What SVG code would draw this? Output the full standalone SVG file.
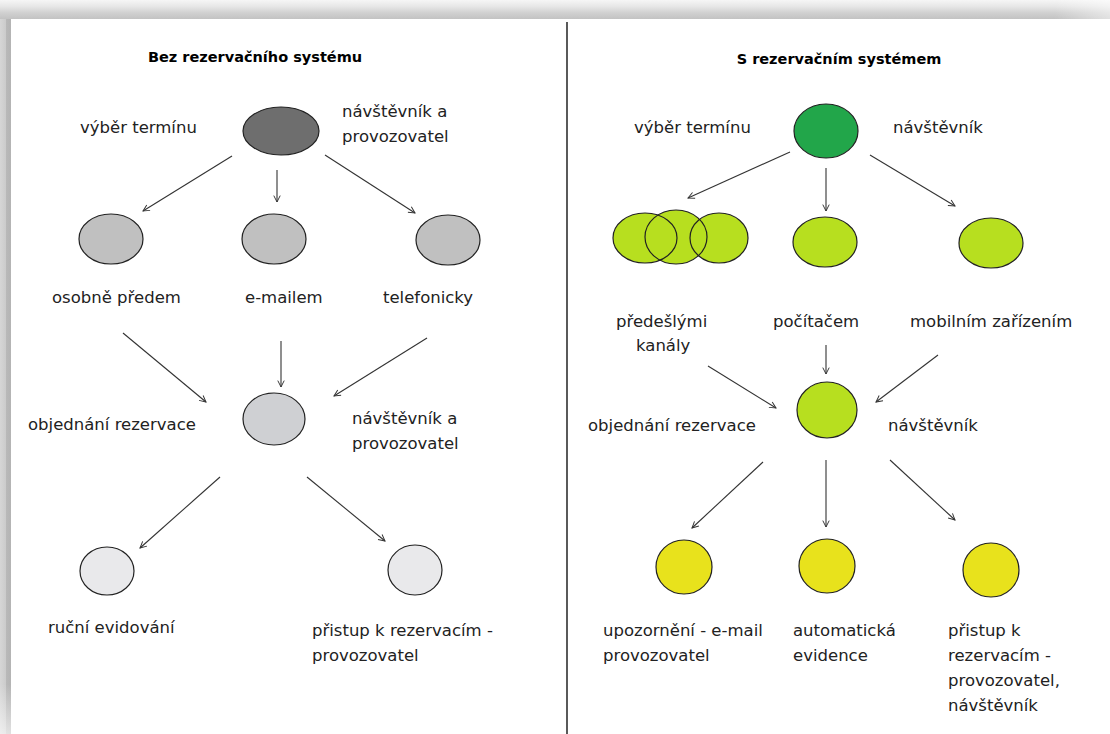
<svg xmlns="http://www.w3.org/2000/svg" width="1110" height="734" viewBox="0 0 1110 734">
<defs>
<linearGradient id="topg" x1="0" y1="0" x2="0" y2="1">
<stop offset="0" stop-color="#f6f6f6"/><stop offset="0.35" stop-color="#e6e6e6"/><stop offset="0.65" stop-color="#d2d2d2"/><stop offset="1" stop-color="#c2c2c2"/>
</linearGradient>
<linearGradient id="topfade" x1="0" y1="0" x2="1" y2="0">
<stop offset="0.95" stop-color="#ffffff" stop-opacity="0"/><stop offset="1" stop-color="#ffffff" stop-opacity="0.5"/>
</linearGradient>
<linearGradient id="leftg" x1="0" y1="0" x2="1" y2="0">
<stop offset="0" stop-color="#d6d6d6"/><stop offset="0.5" stop-color="#cccccc"/><stop offset="0.55" stop-color="#b9b9b9"/><stop offset="1" stop-color="#b4b4b4"/>
</linearGradient>
<linearGradient id="leftfade" x1="0" y1="0" x2="0" y2="1">
<stop offset="0.93" stop-color="#ffffff" stop-opacity="0"/><stop offset="1" stop-color="#ffffff" stop-opacity="0.6"/>
</linearGradient>
<marker id="ah" viewBox="0 0 10 10" refX="9" refY="5" markerWidth="8" markerHeight="8" markerUnits="userSpaceOnUse" orient="auto">
<path d="M1,1 L9,5 L1,9" fill="none" stroke="#333" stroke-width="1.2"/>
</marker>
</defs>
<style>
.t{font-family:"DejaVu Sans","Verdana",sans-serif;font-size:16.5px;fill:#222;}
.h{font-family:"DejaVu Sans","Verdana",sans-serif;font-size:14.5px;font-weight:bold;fill:#000;}
.n{stroke:#222;stroke-width:1.2;}
.o{fill:none;stroke:#222;stroke-width:1.2;}
.c line{stroke:#333;stroke-width:1.1;marker-end:url(#ah);}
</style>
<rect width="1110" height="734" fill="#ffffff"/>
<rect x="0" y="0" width="1110" height="19" fill="url(#topg)"/>
<rect x="0" y="0" width="1110" height="19" fill="url(#topfade)"/>
<rect x="0" y="19" width="11" height="715" fill="url(#leftg)"/>
<rect x="0" y="19" width="11" height="715" fill="url(#leftfade)"/>
<line x1="567" y1="22" x2="567" y2="734" stroke="#000" stroke-width="1.3"/>

<text class="h" x="255" y="62" text-anchor="middle">Bez rezervačního systému</text>
<text class="h" x="839" y="64" text-anchor="middle">S rezervačním systémem</text>

<g id="L-top"><ellipse class="n" cx="281" cy="131" rx="38" ry="24" fill="#6e6e6e"/>
<text class="t" x="80" y="133">výběr termínu</text>
<text class="t" x="342" y="117">návštěvník a</text>
<text class="t" x="342" y="142">provozovatel</text></g>
<g id="L-osobne"><ellipse class="n" cx="111" cy="239" rx="32" ry="25" fill="#c0c0c0"/>
<text class="t" x="52" y="303">osobně předem</text></g>
<g id="L-email"><ellipse class="n" cx="274" cy="239" rx="32" ry="25" fill="#c0c0c0"/>
<text class="t" x="245" y="303">e-mailem</text></g>
<g id="L-tel"><ellipse class="n" cx="448" cy="240" rx="32" ry="25" fill="#c0c0c0"/>
<text class="t" x="383" y="303">telefonicky</text></g>
<g id="L-obj"><ellipse class="n" cx="274" cy="419" rx="31" ry="26" fill="#cfd0d3"/>
<text class="t" x="28" y="430">objednání rezervace</text>
<text class="t" x="352" y="424">návštěvník a</text>
<text class="t" x="352" y="449">provozovatel</text></g>
<g id="L-rucni"><ellipse class="n" cx="107" cy="571" rx="27" ry="24" fill="#e9e9eb"/>
<text class="t" x="48" y="633">ruční evidování</text></g>
<g id="L-pristup"><ellipse class="n" cx="415" cy="570" rx="27" ry="25" fill="#e9e9eb"/>
<text class="t" x="312" y="636">přistup k rezervacím -</text>
<text class="t" x="312" y="661">provozovatel</text></g>

<g id="R-top"><ellipse class="n" cx="826" cy="131" rx="32" ry="27" fill="#22a64a"/>
<text class="t" x="634" y="133">výběr termínu</text>
<text class="t" x="893" y="133">návštěvník</text></g>
<g id="R-predesle">
<ellipse cx="645" cy="238" rx="32" ry="25" fill="#b7df1f"/>
<ellipse cx="676" cy="237" rx="31" ry="27" fill="#b7df1f"/>
<ellipse cx="719" cy="238" rx="29" ry="25" fill="#b7df1f"/>
<ellipse class="o" cx="645" cy="238" rx="32" ry="25"/>
<ellipse class="o" cx="676" cy="237" rx="31" ry="27"/>
<ellipse class="o" cx="719" cy="238" rx="29" ry="25"/>
<text class="t" x="616" y="327">předešlými</text>
<text class="t" x="636" y="351">kanály</text></g>
<g id="R-pc"><ellipse class="n" cx="825" cy="242" rx="32" ry="25" fill="#b7df1f"/>
<text class="t" x="773" y="327">počítačem</text></g>
<g id="R-mobil"><ellipse class="n" cx="991" cy="243" rx="32" ry="25" fill="#b7df1f"/>
<text class="t" x="910" y="327">mobilním zařízením</text></g>
<g id="R-obj"><ellipse class="n" cx="827" cy="410" rx="30" ry="28" fill="#b7df1f"/>
<text class="t" x="588" y="431">objednání rezervace</text>
<text class="t" x="888" y="431">návštěvník</text></g>
<g id="R-upoz"><ellipse class="n" cx="684" cy="567" rx="28" ry="27" fill="#e8e21c"/>
<text class="t" x="603" y="636">upozornění - e-mail</text>
<text class="t" x="603" y="661">provozovatel</text></g>
<g id="R-auto"><ellipse class="n" cx="827" cy="566" rx="28" ry="27" fill="#e8e21c"/>
<text class="t" x="793" y="636">automatická</text>
<text class="t" x="793" y="661">evidence</text></g>
<g id="R-pristup"><ellipse class="n" cx="991" cy="570" rx="28" ry="27" fill="#e8e21c"/>
<text class="t" x="948" y="636">přistup k</text>
<text class="t" x="948" y="661">rezervacím -</text>
<text class="t" x="948" y="686">provozovatel,</text>
<text class="t" x="948" y="711">návštěvník</text></g>

<g id="connectors" class="c">
<line x1="232" y1="156" x2="143" y2="211"/>
<line x1="277" y1="170" x2="277" y2="202"/>
<line x1="325" y1="155" x2="415" y2="213"/>
<line x1="123" y1="333" x2="206" y2="402"/>
<line x1="281" y1="341" x2="281" y2="387"/>
<line x1="427" y1="338" x2="334" y2="396"/>
<line x1="220" y1="477" x2="140" y2="548"/>
<line x1="307" y1="477" x2="385" y2="541"/>
<line x1="790" y1="152" x2="688" y2="198"/>
<line x1="826" y1="168" x2="826" y2="211"/>
<line x1="870" y1="155" x2="955" y2="206"/>
<line x1="708" y1="366" x2="776" y2="408"/>
<line x1="826" y1="345" x2="826" y2="374"/>
<line x1="938" y1="355" x2="876" y2="402"/>
<line x1="763" y1="462" x2="692" y2="528"/>
<line x1="826" y1="460" x2="826" y2="527"/>
<line x1="890" y1="460" x2="955" y2="520"/>
</g>
</svg>
